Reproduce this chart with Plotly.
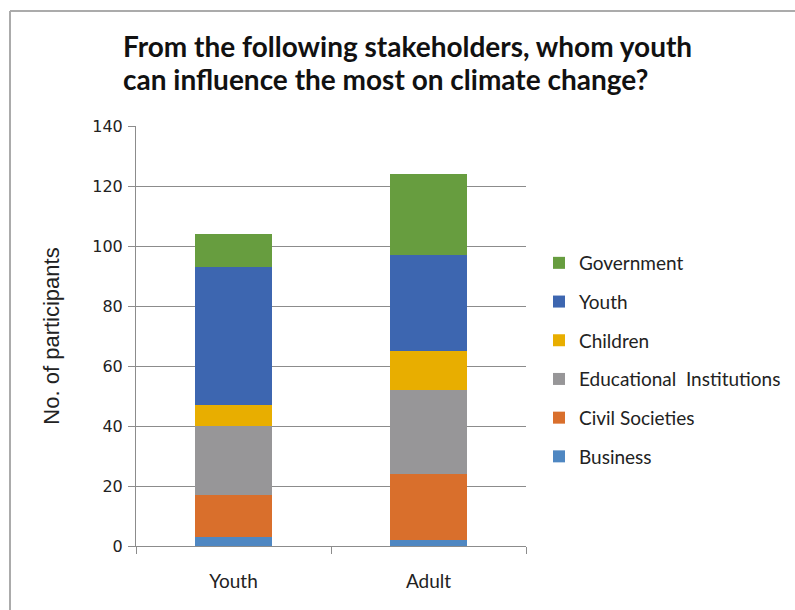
import plotly.graph_objects as go

# Respondent groups on the x axis
groups = ["Youth", "Adult"]

# Number of participants choosing each stakeholder, per respondent group
business = [3, 2]
civil_societies = [14, 22]
educational_institutions = [23, 28]
children = [7, 13]
youth = [46, 32]
government = [11, 27]

y_ticks = [0, 20, 40, 60, 80, 100, 120, 140]

# Stacked bottom-to-top; legend lists them top-to-bottom
series = [
    ("Business", business, "#4F87C2"),
    ("Civil Societies", civil_societies, "#D96F2C"),
    ("Educational  Institutions", educational_institutions, "#979698"),
    ("Children", children, "#E8AE00"),
    ("Youth", youth, "#3D66B0"),
    ("Government", government, "#679D3F"),
]

title_lines = [
    "From the following stakeholders, whom youth",
    "can influence the most on climate change?",
]

label_font = "Lato"
tick_font = "DejaVu Sans"

# Plot-area geometry in pixels (used to place paper-referenced items)
W, H = 795, 610
L, R, T, B = 136, 269, 126, 64
PW, PH = W - L - R, H - T - B


def px_x(x):
    return (x - L) / PW


def px_y(y):
    return (H - B - y) / PH


fig = go.Figure()
for i, (name, values, color) in enumerate(series):
    fig.add_trace(go.Bar(
        x=groups, y=values, name=name, legendgroup=name,
        legendrank=len(series) - i,
        marker=dict(color=color, line=dict(width=0)),
    ))

# Outer chart frame (left and top edges)
fig.add_shape(type="line", xref="paper", yref="paper",
              x0=px_x(10), x1=px_x(800), y0=px_y(11), y1=px_y(11),
              line=dict(color="#ABABAB", width=2))
fig.add_shape(type="line", xref="paper", yref="paper",
              x0=px_x(10), x1=px_x(10), y0=px_y(11), y1=px_y(620),
              line=dict(color="#ABABAB", width=2))

# Chart title, one annotation per line
for line, y_px in zip(title_lines, [46, 79]):
    fig.add_annotation(
        text=f"<b>{line}</b>", xref="paper", yref="paper",
        x=px_x(121), y=px_y(y_px), xanchor="left", yanchor="middle",
        showarrow=False,
        font=dict(family=label_font, size=28, color="#111111"),
    )

fig.update_layout(
    width=W, height=H,
    margin=dict(l=L, r=R, t=T, b=B, autoexpand=False),
    paper_bgcolor="white", plot_bgcolor="white",
    barmode="stack", bargap=0.605,
    font=dict(family=tick_font, color="#222222"),
    legend=dict(
        traceorder="grouped", tracegroupgap=11,
        x=px_x(539), xanchor="left", y=px_y(244), yanchor="top",
        font=dict(family=label_font, size=19, color="#222222"),
        bgcolor="rgba(0,0,0,0)", itemwidth=30,
    ),
    showlegend=True,
)

fig.update_yaxes(
    range=[0, 140], tickvals=y_ticks,
    showgrid=True, gridcolor="#8C8C8C", gridwidth=1,
    showline=True, linecolor="#8C8C8C", linewidth=1,
    ticks="outside", ticklen=7, tickcolor="#8C8C8C",
    ticklabelstandoff=2,
    tickfont=dict(family=tick_font, size=16, color="#222222"),
    title=dict(text="No. of participants", standoff=26,
               font=dict(family="Liberation Sans", size=22, color="#222222")),
    zeroline=False,
)
fig.update_xaxes(
    showline=True, linecolor="#8C8C8C", linewidth=1,
    ticks="outside", ticklen=7, tickcolor="#8C8C8C", tickson="boundaries",
    ticklabelstandoff=18,
    tickfont=dict(family=label_font, size=19, color="#222222"),
)

fig.write_html("out.html")
